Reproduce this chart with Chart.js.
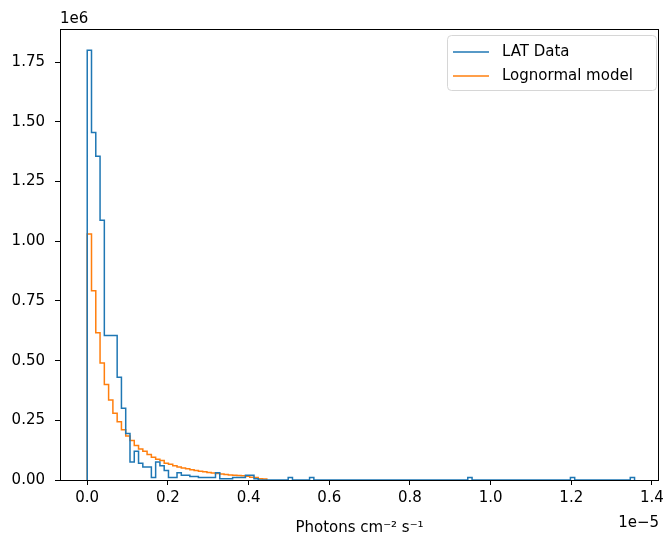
<!DOCTYPE html>
<html>
<head>
<meta charset="utf-8">
<script src="https://cdn.jsdelivr.net/npm/chart.js@4"></script>
<style>
  html, body { margin: 0; padding: 0; background: #fff; }
  #wrap { width: 668px; height: 537px; position: relative; }
</style>
</head>
<body>
<div id="wrap"><canvas id="hist"></canvas></div>
<script>
// histogram bins, in units of 1e-5 photons cm^-2 s^-1
const binStart = 0.0;
const binWidth = 0.0106;

// counts per bin, in units of 1e6
const latCounts = [
  1.80, 1.456, 1.356, 1.088, 0.605, 0.605, 0.605, 0.43, 0.30, 0.195,
  0.075, 0.12, 0.07, 0.054, 0.054, 0.01, 0.075, 0.06, 0.04, 0.01,
  0.01, 0.03, 0.02, 0.02, 0.015, 0.015, 0.01, 0.01, 0.01, 0.01,
  0.03, 0.005, 0.005, 0.005, 0.01, 0.01, 0.01, 0.02, 0.02, 0.005,
  0, 0, 0, 0, 0, 0, 0, 0.01, 0, 0,
  0, 0, 0.01, 0, 0, 0, 0, 0, 0, 0,
  0, 0, 0, 0, 0, 0, 0, 0, 0, 0,
  0, 0, 0, 0, 0, 0, 0, 0, 0, 0,
  0, 0, 0, 0, 0, 0, 0, 0, 0, 0.01,
  0, 0, 0, 0, 0, 0, 0, 0, 0, 0,
  0, 0, 0, 0, 0, 0, 0, 0, 0, 0,
  0, 0, 0, 0.01, 0, 0, 0, 0, 0, 0,
  0, 0, 0, 0, 0, 0, 0, 0.01
];

const modelCounts = [
  1.03, 0.793, 0.617, 0.49, 0.40, 0.335, 0.28, 0.244, 0.21, 0.184,
  0.165, 0.145, 0.13, 0.12, 0.107, 0.095, 0.087, 0.082, 0.07, 0.066,
  0.06, 0.054, 0.05, 0.047, 0.043, 0.04, 0.037, 0.035, 0.031, 0.029,
  0.027, 0.025, 0.023, 0.021, 0.02, 0.019, 0.018, 0.016, 0.012, 0.01,
  0.005, 0.004
];

const xTickValues = [0.0, 0.2, 0.4, 0.6, 0.8, 1.0, 1.2, 1.4];
const yTickValues = [0.0, 0.25, 0.5, 0.75, 1.0, 1.25, 1.5, 1.75];

const FONT = "'DejaVu Sans', sans-serif";

// outline of a histtype='step' histogram
function stepPoints(counts) {
  const pts = [{ x: binStart, y: 0 }];
  counts.forEach((c, i) => pts.push({ x: binStart + i * binWidth, y: c }));
  pts.push({ x: binStart + counts.length * binWidth, y: 0 });
  return pts;
}

// spines on top of the lines, like matplotlib
const spines = {
  id: 'spines',
  afterDatasetsDraw(chart) {
    const { ctx, chartArea: a } = chart;
    ctx.save();
    ctx.strokeStyle = '#000';
    ctx.lineWidth = 1;
    ctx.strokeRect(Math.round(a.left) + 0.5, Math.round(a.top) + 0.5,
      Math.round(a.right - a.left) - 1, Math.round(a.bottom - a.top));
    ctx.restore();
  }
};

// offset texts and legend box
const extras = {
  id: 'extras',
  afterDraw(chart) {
    const { ctx, chartArea: a } = chart;
    ctx.save();
    ctx.fillStyle = '#000';
    ctx.font = '15px ' + FONT;
    ctx.textBaseline = 'alphabetic';
    ctx.textAlign = 'left';
    ctx.fillText('1e6', a.left, 23);
    ctx.textAlign = 'right';
    ctx.fillText('1e\u22125', a.right, 527);

    // legend
    const bx = 447, by = 35, bw = 209, bh = 55;
    ctx.beginPath();
    ctx.roundRect(bx + 0.5, by + 0.5, bw, bh, 4);
    ctx.fillStyle = 'rgba(255,255,255,0.8)';
    ctx.fill();
    ctx.strokeStyle = '#d6d6d6';
    ctx.lineWidth = 1;
    ctx.stroke();
    ctx.textAlign = 'left';
    ctx.textBaseline = 'middle';
    chart.data.datasets.forEach((ds, i) => {
      const y = by + 17 + i * 24;
      ctx.strokeStyle = ds.borderColor;
      ctx.lineWidth = 1.5;
      ctx.beginPath();
      ctx.moveTo(453, y);
      ctx.lineTo(489, y);
      ctx.stroke();
      ctx.fillStyle = '#000';
      ctx.fillText(ds.label, 502, y);
    });
    ctx.restore();
  }
};

new Chart(document.getElementById('hist'), {
  type: 'line',
  data: {
    datasets: [
      {
        label: 'LAT Data',
        data: stepPoints(latCounts),
        borderColor: '#1f77b4',
        borderWidth: 1.5,
        stepped: 'before',
        pointRadius: 0,
        fill: false
      },
      {
        label: 'Lognormal model',
        data: stepPoints(modelCounts),
        borderColor: '#ff7f0e',
        borderWidth: 1.5,
        stepped: 'before',
        pointRadius: 0,
        fill: false
      }
    ]
  },
  options: {
    responsive: true,
    maintainAspectRatio: false,
    animation: false,
    layout: { padding: { top: 29, right: 8, left: 0, bottom: 0 } },
    plugins: {
      legend: { display: false },
      tooltip: { enabled: false }
    },
    scales: {
      x: {
        type: 'linear',
        min: -0.0675,
        max: 1.4175,
        afterBuildTicks: s => { s.ticks = xTickValues.map(v => ({ value: v })); },
        afterFit: s => { s.height = 57; },
        grid: { drawOnChartArea: false, drawTicks: true, tickLength: 5, color: '#000' },
        border: { display: false },
        ticks: {
          color: '#000',
          font: { family: FONT, size: 15 },
          padding: 4,
          maxRotation: 0,
          callback: v => v.toFixed(1)
        },
        title: {
          display: true,
          text: 'Photons cm\u207B\u00B2 s\u207B\u00B9',
          color: '#000',
          font: { family: FONT, size: 15 },
          padding: { top: 0, bottom: 0 }
        }
      },
      y: {
        min: 0,
        max: 1.889,
        afterBuildTicks: s => { s.ticks = yTickValues.map(v => ({ value: v })); },
        afterFit: s => { s.width = 60; },
        grid: { drawOnChartArea: false, drawTicks: true, tickLength: 5, color: '#000' },
        border: { display: false },
        ticks: {
          color: '#000',
          font: { family: FONT, size: 15 },
          padding: 10,
          callback: v => v.toFixed(2)
        }
      }
    }
  },
  plugins: [spines, extras]
});
</script>
</body>
</html>
